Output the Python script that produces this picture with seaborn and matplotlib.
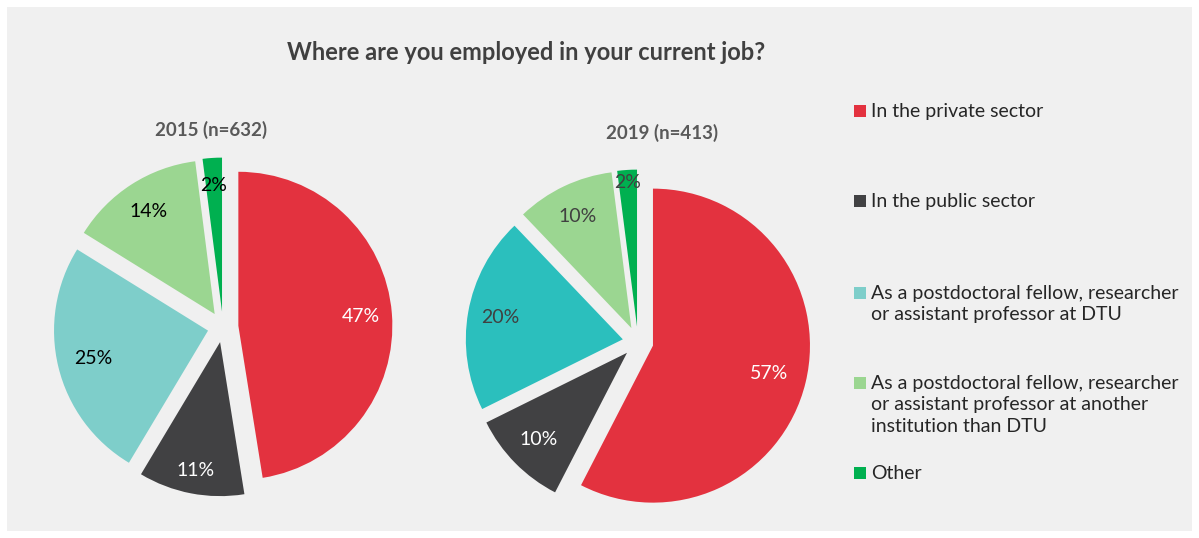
import matplotlib
matplotlib.use("Agg")
import numpy as np
import matplotlib.pyplot as plt
from matplotlib.patches import Rectangle
import seaborn as sns

sns.set_style("white")
plt.rcParams["font.family"] = ["Lato", "DejaVu Sans"]

categories = [
    "In the private sector",
    "In the public sector",
    "As a postdoctoral fellow, researcher\nor assistant professor at DTU",
    "As a postdoctoral fellow, researcher\nor assistant professor at another\ninstitution than DTU",
    "Other",
]
values_2015 = [47, 11, 25, 14, 2]
values_2019 = [57, 10, 20, 10, 2]
title_2015 = "2015 (n=632)"
title_2019 = "2019 (n=413)"

colors_2015 = ["#E3323F", "#414143", "#7ECECA", "#9BD691", "#00B050"]
colors_2019 = ["#E3323F", "#414143", "#2BBFBD", "#9BD691", "#00B050"]
legend_colors = colors_2015
label_colors_2015 = ["white", "white", "black", "black", "black"]
label_colors_2019 = ["white", "white", "#404040", "#404040", "#404040"]

W, H = 1199, 538
fig = plt.figure(figsize=(W / 100, H / 100), dpi=100, facecolor="white")
fig.patches.append(Rectangle((7 / W, 7 / H), 1185 / W, 524 / H, transform=fig.transFigure,
                             facecolor="#F0F0F0", edgecolor="none", zorder=-10))

R = 154  # px per unit radius
L = 1.3
EXPLODE = 0.1


def draw_pie(cx, cy, vals, cols, lcols, radius, pct_dist):
    size = 2 * L * R
    ax = fig.add_axes([(cx - size / 2) / W, (H - cy - size / 2) / H, size / W, size / H])
    wedges, texts, autotexts = ax.pie(
        vals, colors=cols, startangle=90, counterclock=False,
        explode=[EXPLODE] * len(vals), radius=radius, pctdistance=0.8,
        autopct=lambda p: f"{p * 99 / 100:.0f}%",
        wedgeprops=dict(linewidth=0),
        textprops=dict(fontsize=14),
    )
    for w, t, c, d in zip(wedges, autotexts, lcols, pct_dist):
        t.set_color(c)
        ang = np.deg2rad((w.theta1 + w.theta2) / 2)
        cxw, cyw = w.center
        t.set_position((cxw + d * radius * np.cos(ang), cyw + d * radius * np.sin(ang)))
    ax.set_xlim(-L, L)
    ax.set_ylim(-L, L)
    ax.set_aspect("equal")
    ax.axis("off")
    return ax


draw_pie(223, 327, values_2015, colors_2015, label_colors_2015, 1.0, [0.8, 0.85, 0.77, 0.79, 0.82])
draw_pie(638, 342, values_2019, colors_2019, label_colors_2019, 157 / 154, [0.76, 0.79, 0.79, 0.79, 0.92])

fig.text(526 / W, 1 - 52 / H, "Where are you employed in your current job?", ha="center", va="center",
         fontsize=17, fontweight="bold", color="#404040")
fig.text(211 / W, 1 - 130 / H, title_2015, ha="center", va="center", fontsize=13.5,
         fontweight="bold", color="#595959")
fig.text(662 / W, 1 - 133 / H, title_2019, ha="center", va="center", fontsize=13.5,
         fontweight="bold", color="#595959")

legend_y = [111, 201, 293, 383, 473]
for lab, col, y in zip(categories, legend_colors, legend_y):
    fig.patches.append(Rectangle((854 / W, 1 - (y + 6) / H), 12 / W, 12 / H, transform=fig.transFigure,
                                 facecolor=col, edgecolor="none"))
    fig.text(871 / W, 1 - (y - 8) / H, lab, ha="left", va="top", fontsize=14,
             color="#262626", linespacing=1.32)

fig.savefig("out.png", dpi=100, facecolor="white")
